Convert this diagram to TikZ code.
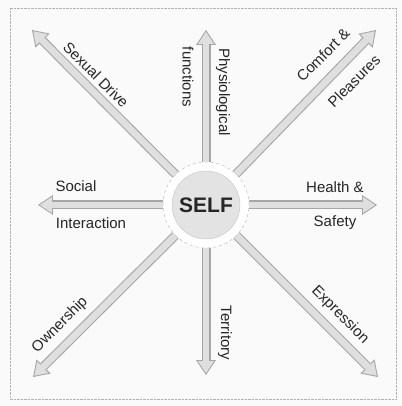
\documentclass[tikz,border=0pt]{standalone}
\usepackage{fontspec}
\setmainfont{Liberation Sans}
\usepackage{tikz}
\usetikzlibrary{arrows.meta}

\begin{document}
\begin{tikzpicture}[x=1pt, y=1pt]
				\tikzstyle{Label}	= [font=\fontsize{15}{18}\selectfont, text=black!85, inner sep=1pt]
				\tikzstyle{Edge}	= [line width=9pt, draw=gray!70, -{Triangle[length=15pt, width=20pt, line width=0pt]}]
				\tikzstyle{Core}	= [line width=6.8pt, draw=gray!25, shorten >=1.8pt, -{Triangle[length=12pt, width=16pt, line width=0pt]}]
				\tikzstyle{Ring}	= [circle, minimum size=86pt, draw=gray!60, dashed, fill=white]
				\tikzstyle{Self}	= [circle, minimum size=68pt, fill=gray!22, draw=gray!45, text=black!85, font=\bfseries\fontsize{21}{24}\selectfont]
				
				\useasboundingbox [fill=gray!4] (-206, -201) rectangle (195, 205);
				\draw [gray!60, densely dotted] (-196, -194) rectangle (190, 197);
				
				\node (ring) at (0, 0) [Ring] {};
				\node (self) at (0, 0) [Self] {SELF};
				
				\coordinate (n) at (0, 175);
				\coordinate (ne) at (170, 175);
				\coordinate (e) at (171, 0);
				\coordinate (se) at (172, -172);
				\coordinate (s) at (0, -170);
				\coordinate (sw) at (-173, -172);
				\coordinate (w) at (-168, 0);
				\coordinate (nw) at (-174, 175);
				
				\foreach \t in {n, ne, e, se, s, sw, w, nw} {
					\draw (ring) -- (\t) [Edge];
					\draw (ring) -- (\t) [Core];
				}
				
				\node (sexual) at (-110, 130) [Label, rotate=-45] {Sexual Drive};
				\node (functions) at (-18, 128) [Label, rotate=-90] {functions};
				\node (physio) at (17, 113) [Label, rotate=-90] {Physiological};
				\node (comfort) at (117, 150) [Label, rotate=45] {Comfort \&};
				\node (pleasures) at (148, 124) [Label, rotate=45] {Pleasures};
				
				\node (social) at (-130, 19) [Label] {Social};
				\node (interaction) at (-115, -18) [Label] {Interaction};
				\node (health) at (129, 18) [Label] {Health \&};
				\node (safety) at (129, -18) [Label] {Safety};
				
				\node (ownership) at (-146, -120) [Label, rotate=45] {Ownership};
				\node (territory) at (19, -128) [Label, rotate=-90] {Territory};
				\node (expression) at (134, -110) [Label, rotate=-45] {Expression};
			\end{tikzpicture}
\end{document}
